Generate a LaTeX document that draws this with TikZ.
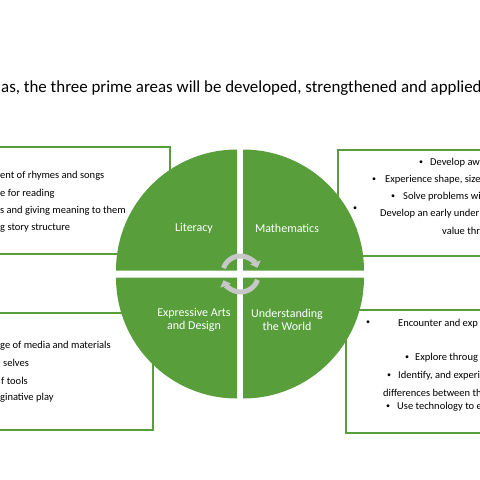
\documentclass[tikz,border=0pt]{standalone}
\usepackage{fontspec}
\setmainfont{Carlito}
\usetikzlibrary{arrows.meta}
\definecolor{areagreen}{HTML}{589F3C}

\begin{document}
\begin{tikzpicture}[
  x=1pt, y=-1pt,
  every node/.style={inner sep=0pt},
  quad/.style={fill=areagreen},
  panel/.style={draw=areagreen, line width=2pt},
  area/.style={text=white, font=\fontsize{12}{12.5}\selectfont, align=center},
  item/.style={anchor=west, font=\fontsize{10.5}{12}\selectfont},
  dot/.style={font=\fontsize{8}{10}\selectfont},
  turn/.style={line width=5pt, draw=black!22, -{Triangle[width=11pt,length=6pt]}}
]
\useasboundingbox (0,0) rectangle (480,480);
\clip (0,0) rectangle (480,480);

% heading
\node[anchor=west, font=\fontsize{16.9}{20}\selectfont] (title) at (1,88)
  {as, the three prime areas will be developed, strengthened and applied};

% boxes behind the circle
\draw[panel] (-10,147) rectangle (170,254);
\draw[panel] (338,150) rectangle (495,256);
\draw[panel] (-10,313) rectangle (153,430);
\draw[panel] (346,310) rectangle (495,433);

% literacy
\node[item] (lit1) at (0,176) {ent of rhymes and songs};
\node[item] (lit2) at (0,193.5) {e for reading};
\node[item] (lit3) at (0,211) {s and giving meaning to them};
\node[item] (lit4) at (0,228.5) {g story structure};

% mathematics
\node[dot] (mat1d) at (421,163) {\textbullet};
\node[item] (mat1) at (430,163) {Develop aw};
\node[dot] (mat2d) at (374,180) {\textbullet};
\node[item] (mat2) at (385,180) {Experience shape, size};
\node[dot] (mat3d) at (393,197) {\textbullet};
\node[item] (mat3) at (403,197) {Solve problems wi};
\node[dot] (mat4d) at (355,209) {\textbullet};
\node[item] (mat4) at (380,214) {Develop an early under};
\node[item] (mat5) at (442,231) {value thr};

% expressive arts
\node[item] (art1) at (0,346) {ge of media and materials};
\node[item] (art2) at (3,363) {selves};
\node[item] (art3) at (1,380.5) {f tools};
\node[item] (art4) at (0,398) {ginative play};

% understanding the world
\node[dot] (wld1d) at (368,323) {\textbullet};
\node[item] (wld1) at (398,324) {Encounter and exp};
\node[dot] (wld2d) at (407,358) {\textbullet};
\node[item] (wld2) at (415,358) {Explore throug};
\node[dot] (wld3d) at (389,376) {\textbullet};
\node[item] (wld3) at (398,376) {Identify, and experi};
\node[item] (wld4) at (383,393) {differences between th};
\node[dot] (wld5d) at (388,407) {\textbullet};
\node[item] (wld5) at (397,407) {Use technology to e};

% the four quarters
\fill[quad] (237,270.5) -- (116,270.5) arc[start angle=180, end angle=270, radius=121] -- cycle;
\fill[quad] (243,270.5) -- (243,149.5) arc[start angle=270, end angle=360, radius=121] -- cycle;
\fill[quad] (243,277.5) -- (364,277.5) arc[start angle=0, end angle=90, radius=121] -- cycle;
\fill[quad] (237,277.5) -- (237,398.5) arc[start angle=90, end angle=180, radius=121] -- cycle;

\node[area] (literacy) at (194,228) {Literacy};
\node[area] (maths) at (287,228) {Mathematics};
\node[area] (arts) at (194,320) {Expressive Arts\\and Design};
\node[area] (world) at (287,320) {Understanding\\the World};

% turning arrows in the middle
\draw[turn] (240.5,274) ++(199:18) arc[start angle=199, end angle=340, radius=18];
\draw[turn] (240.5,274) ++(19:18) arc[start angle=19, end angle=160, radius=18];
\end{tikzpicture}
\end{document}
